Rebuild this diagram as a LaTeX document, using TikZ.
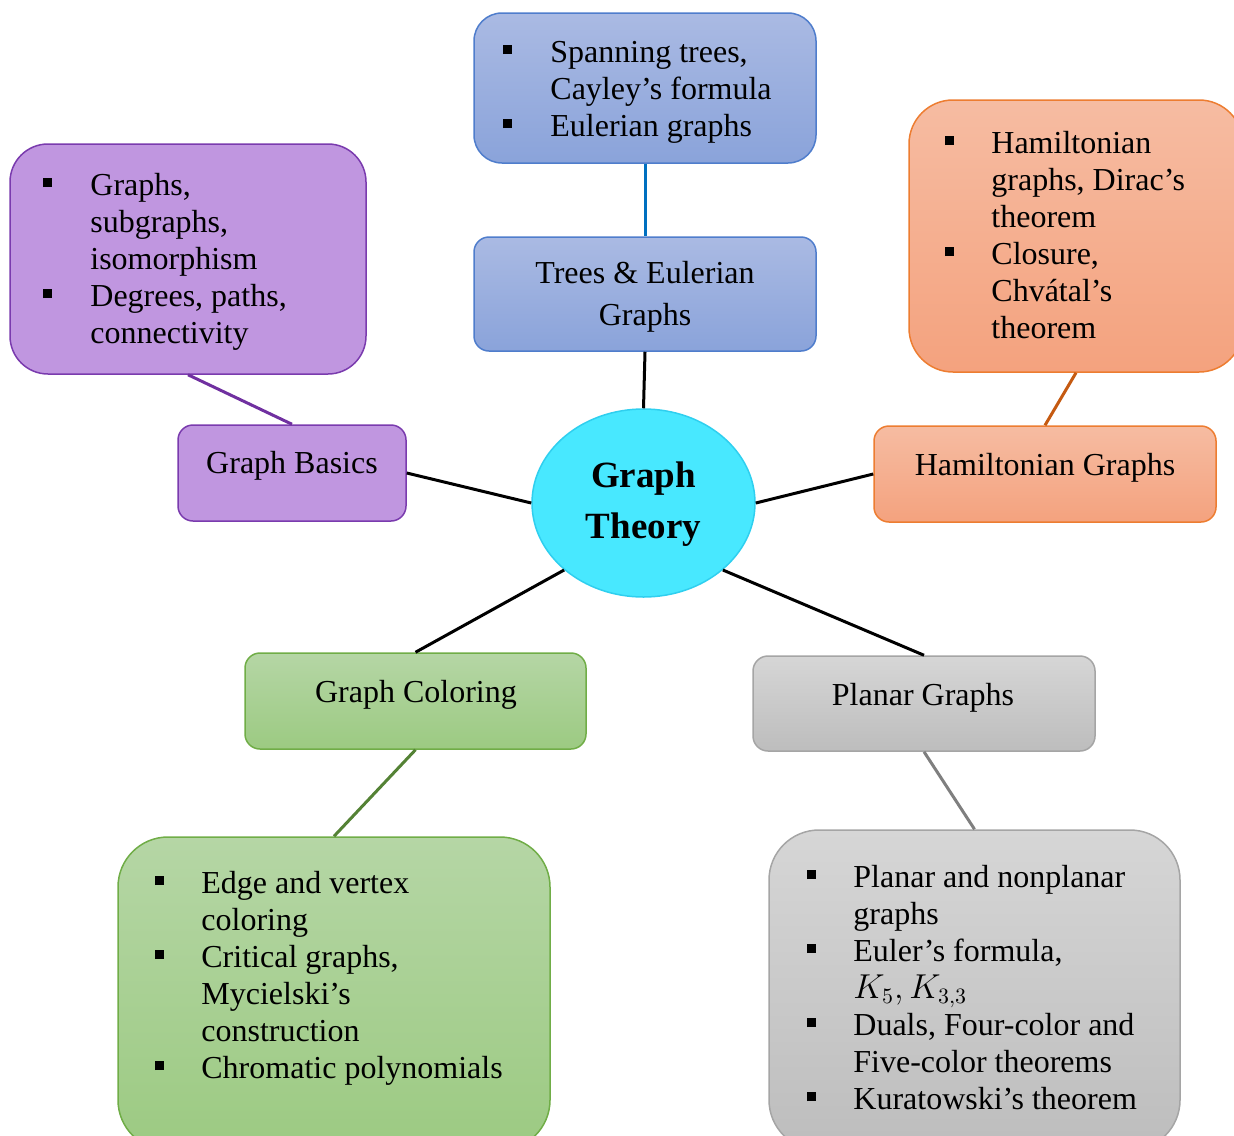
\documentclass[tikz,border=0pt]{standalone}
\usepackage{fontspec}
\setmainfont{Liberation Serif}
\usetikzlibrary{shapes.geometric}
\definecolor{blueT}{HTML}{AABAE3}
\definecolor{blueB}{HTML}{8AA3DA}
\definecolor{blueD}{HTML}{4F7DCC}
\definecolor{blueL}{HTML}{0070C0}
\definecolor{purF}{HTML}{C096E0}
\definecolor{purD}{HTML}{7A3BAE}
\definecolor{purL}{HTML}{7030A0}
\definecolor{oraT}{HTML}{F6BCA2}
\definecolor{oraB}{HTML}{F4A27E}
\definecolor{oraD}{HTML}{ED7D31}
\definecolor{oraL}{HTML}{C55A11}
\definecolor{grnT}{HTML}{B5D6A5}
\definecolor{grnB}{HTML}{9CCA82}
\definecolor{grnD}{HTML}{70AD47}
\definecolor{grnL}{HTML}{548235}
\definecolor{gryT}{HTML}{D6D6D6}
\definecolor{gryB}{HTML}{BDBDBD}
\definecolor{gryD}{HTML}{A5A5A5}
\definecolor{gryL}{HTML}{7F7F7F}
\definecolor{cyaF}{HTML}{48E8FF}
\definecolor{cyaD}{HTML}{2FCFEF}
\newcommand{\bl}{\rule[4pt]{4.5pt}{4.5pt}}
\begin{document}
\begin{tikzpicture}[x=0.5pt,y=-0.5pt,
  rbox/.style={draw, rectangle, rounded corners=#1, line width=0.75pt, inner sep=0pt},
  lab/.style={font=\fontsize{16}{21}\selectfont, inner sep=0pt, anchor=base},
  lst/.style={font=\fontsize{16}{18.5}\selectfont, inner sep=0pt, anchor=base west},
  conn/.style={line width=1.5pt}]
\useasboundingbox (0,0) rectangle (1234,1135);
\clip (0,0) rectangle (1234,1135);

% centre
\node[ellipse, draw=cyaD, fill=cyaF, line width=0.75pt, minimum width=111.5pt, minimum height=94pt, inner sep=0pt] (gt) at (643.5,503) {};
\node[inner sep=0pt, anchor=base, font=\fontsize{18.5}{25.5}\selectfont\bfseries] (gtt) at (643.5,487)
  {\begin{tabular}[t]{@{}c@{}}Graph\\Theory\end{tabular}};

% blue
\node[rbox=14pt, draw=blueD, top color=blueT, bottom color=blueB, minimum width=171pt, minimum height=75pt] (bd) at (645,88) {};
\node[rbox=7.5pt, draw=blueD, top color=blueT, bottom color=blueB, minimum width=171pt, minimum height=57pt] (tr) at (645,294) {};
\node[lab] (trt) at (645,283) {\begin{tabular}[t]{@{}c@{}}Trees \& Eulerian\\Graphs\end{tabular}};
\node[lst] (bdt) at (503,62) {\begin{tabular}[t]{@{}p{23.5pt}@{}l@{}}
\bl & Spanning trees,\\
 & Cayley’s formula\\
\bl & Eulerian graphs\end{tabular}};

% purple
\node[rbox=19pt, draw=purD, fill=purF, minimum width=178pt, minimum height=115pt] (pd) at (188,259) {};
\node[rbox=7.5pt, draw=purD, fill=purF, minimum width=114pt, minimum height=48pt] (gb) at (292,473) {};
\node[lab] (gbt) at (292,473) {Graph Basics};
\node[lst] (pdt) at (43,195) {\begin{tabular}[t]{@{}p{23.5pt}@{}l@{}}
\bl & Graphs,\\
 & subgraphs,\\
 & isomorphism\\
\bl & Degrees, paths,\\
 & connectivity\end{tabular}};

% orange
\node[rbox=22pt, draw=oraD, top color=oraT, bottom color=oraB, minimum width=167pt, minimum height=136pt] (od) at (1076,236) {};
\node[rbox=7.5pt, draw=oraD, top color=oraT, bottom color=oraB, minimum width=171pt, minimum height=48pt] (hm) at (1045,474) {};
\node[lab] (hmt) at (1045,475) {Hamiltonian Graphs};
\node[lst] (odt) at (945,153) {\begin{tabular}[t]{@{}p{23pt}@{}l@{}}
\bl & Hamiltonian\\
 & graphs, Dirac’s\\
 & theorem\\
\bl & Closure,\\
 & Chvátal’s\\
 & theorem\end{tabular}};

% green
\node[rbox=7.5pt, draw=grnD, top color=grnT, bottom color=grnB, minimum width=170.5pt, minimum height=48pt] (gc) at (415.5,701) {};
\node[lab] (gct) at (416,702) {Graph Coloring};
\node[rbox=25pt, draw=grnD, top color=grnT, bottom color=grnB, minimum width=216pt, minimum height=156.5pt] (gd) at (334,993.5) {};
\node[lst] (gdt) at (155,893) {\begin{tabular}[t]{@{}p{23pt}@{}l@{}}
\bl & Edge and vertex\\
 & coloring\\
\bl & Critical graphs,\\
 & Mycielski’s\\
 & construction\\
\bl & Chromatic polynomials\end{tabular}};

% grey
\node[rbox=7.5pt, draw=gryD, top color=gryT, bottom color=gryB, minimum width=171pt, minimum height=47.5pt] (pg) at (924,703.5) {};
\node[lab] (pgt) at (923,705) {Planar Graphs};
\node[rbox=25pt, draw=gryD, top color=gryT, bottom color=gryB, minimum width=205.5pt, minimum height=160pt] (yd) at (974.5,990) {};
\node[lst] (ydt) at (807,887) {\begin{tabular}[t]{@{}p{23pt}@{}l@{}}
\bl & Planar and nonplanar\\
 & graphs\\
\bl & Euler’s formula,\\
 & $K_5,K_{3,3}$\\
\bl & Duals, Four-color and\\
 & Five-color theorems\\
\bl & Kuratowski’s theorem\end{tabular}};

% connectors
\draw[conn, blueL] (bd.south) -- (tr.north);
\draw[conn, purL] (pd.south) -- (gb.north);
\draw[conn, oraL] (od.south) -- (hm.north);
\draw[conn, grnL] (gc.south) -- (gd.north);
\draw[conn, gryL] (pg.south) -- (yd.north);
\draw[conn] (tr.south) -- (gt.north);
\draw[conn] (gb.east) -- (gt.west);
\draw[conn] (hm.west) -- (gt.east);
\draw[conn] (gc.north) -- (gt.south west);
\draw[conn] (pg.north) -- (gt.south east);
\end{tikzpicture}
\end{document}
